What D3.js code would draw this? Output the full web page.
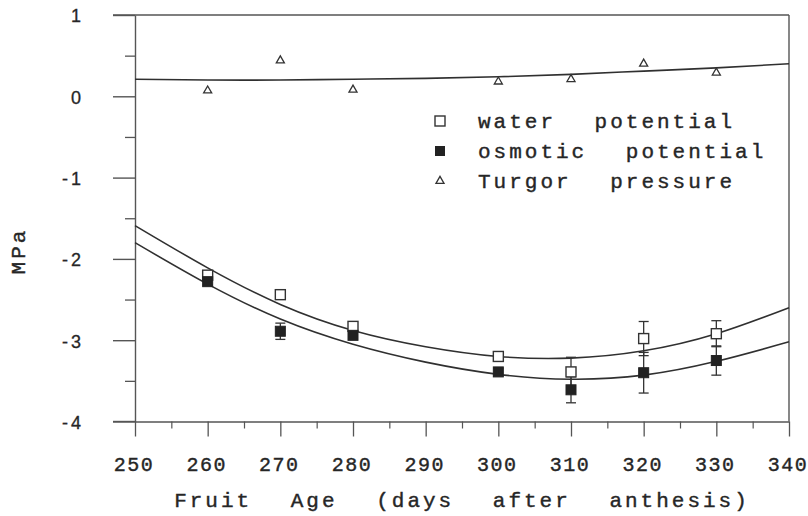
<!DOCTYPE html>
<html>
<head>
<meta charset="utf-8">
<script src="https://cdn.jsdelivr.net/npm/d3@7"></script>
<style>
  html, body { margin: 0; padding: 0; background: #fff; }
  svg { display: block; }
  .mono { font-family: "Liberation Mono", "DejaVu Sans Mono", monospace; }
  .sans { font-family: "Liberation Sans", Arial, sans-serif; }
</style>
</head>
<body>
<svg id="chart" width="808" height="516"></svg>
<script>
// Sampling days and measured values (MPa)
const days = [260, 270, 280, 300, 310, 320, 330];
const waterPotential = [-2.20, -2.44, -2.83, -3.20, -3.39, -2.98, -2.92];
const waterErr = [0.03, 0.03, 0.04, 0.04, 0.18, 0.21, 0.16];
const osmoticPotential = [-2.28, -2.89, -2.94, -3.39, -3.61, -3.40, -3.25];
const osmoticErr = [0.04, 0.10, 0.05, 0.04, 0.16, 0.25, 0.18];
const turgorPressure = [0.07, 0.44, 0.08, 0.18, 0.21, 0.40, 0.29];

// Fitted curves, sampled every 10 days
const fitDays = [250, 260, 270, 280, 290, 300, 310, 320, 330, 340];
const waterFit = [-1.59, -2.11, -2.56, -2.88, -3.08, -3.20, -3.22, -3.13, -2.92, -2.60];
const osmoticFit = [-1.80, -2.31, -2.74, -3.05, -3.27, -3.42, -3.48, -3.43, -3.26, -3.02];
const turgorFit = [0.21, 0.20, 0.20, 0.21, 0.22, 0.24, 0.27, 0.31, 0.35, 0.40];

// Axis ticks
const xTicks = [250, 260, 270, 280, 290, 300, 310, 320, 330, 340];
const xMinorTicks = [255, 265, 275, 285, 295, 305, 315, 325, 335];
const yTicks = [-4, -3, -2, -1, 0, 1];
const yMinorTicks = [-3.5, -2.5, -1.5, -0.5, 0.5];

const legendLabels = ["water potential", "osmotic potential", "Turgor pressure"];

const ink = "#262626";
const axisInk = "#555";
const monoFont = '"Liberation Mono", "DejaVu Sans Mono", monospace';

const svg = d3.select("#chart");
const x = d3.scaleLinear().domain([250, 340]).range([135, 789]);
const y = d3.scaleLinear().domain([-4, 1]).range([421.5, 15]);

// Frame: top edge
svg.append("line").attr("x1", 113).attr("x2", x(340)).attr("y1", y(1)).attr("y2", y(1))
  .attr("stroke", axisInk).attr("stroke-width", 1.4);

// Left axis, major and minor ticks
const yAxis = svg.append("g").attr("transform", `translate(${x(250)},0)`)
  .call(d3.axisLeft(y).tickValues(yTicks).tickSize(22).tickSizeOuter(0)
    .tickFormat(d => d < 0 ? "-" + Math.abs(d) : String(d)));
yAxis.select(".domain").attr("stroke", axisInk).attr("stroke-width", 1.4);
yAxis.selectAll(".tick line").attr("stroke", axisInk).attr("stroke-width", 1.4);
yAxis.selectAll(".tick text").attr("x", -51).attr("dy", "0.38em")
  .attr("font-size", 18).attr("fill", ink).attr("stroke", ink).attr("stroke-width", 0.3)
  .attr("letter-spacing", 3)
  .style("font-family", '"Liberation Sans", Arial, sans-serif');

const yMinor = svg.append("g").attr("transform", `translate(${x(250)},0)`)
  .call(d3.axisLeft(y).tickValues(yMinorTicks).tickSize(10).tickFormat(""));
yMinor.select(".domain").remove();
yMinor.selectAll(".tick line").attr("stroke", axisInk).attr("stroke-width", 1.3);

// Right edge
svg.append("line").attr("x1", x(340)).attr("x2", x(340)).attr("y1", y(1)).attr("y2", y(-4))
  .attr("stroke", axisInk).attr("stroke-width", 1.4);

// Bottom axis
const xAxis = svg.append("g").attr("transform", `translate(0,${y(-4)})`)
  .call(d3.axisBottom(x).tickValues(xTicks).tickSize(15).tickSizeOuter(0).tickFormat(d3.format("d")));
xAxis.select(".domain").attr("stroke", axisInk).attr("stroke-width", 1.4);
xAxis.selectAll(".tick line").attr("stroke", axisInk).attr("stroke-width", 1.3);
xAxis.selectAll(".tick text").attr("x", -1.5).attr("y", 49).attr("dy", 0).attr("font-size", 20)
  .attr("fill", ink).attr("stroke", ink).attr("stroke-width", 0.4).attr("letter-spacing", 1.5)
  .style("font-family", monoFont);

const xMinor = svg.append("g").attr("transform", `translate(0,${y(-4)})`)
  .call(d3.axisBottom(x).tickValues(xMinorTicks).tickSize(7).tickFormat(""));
xMinor.select(".domain").remove();
xMinor.selectAll(".tick line").attr("stroke", axisInk).attr("stroke-width", 1.2);

// bottom edge continues left to meet the -4 tick
svg.append("line").attr("x1", 113).attr("x2", x(250)).attr("y1", y(-4)).attr("y2", y(-4))
  .attr("stroke", axisInk).attr("stroke-width", 1.4);

// Axis titles
svg.append("text").attr("class", "mono")
  .attr("x", (x(250) + x(340)) / 2).attr("y", 507)
  .attr("text-anchor", "middle").attr("font-size", 21).attr("fill", ink)
  .attr("stroke", ink).attr("stroke-width", 0.4)
  .attr("letter-spacing", 3).attr("word-spacing", 23)
  .text("Fruit Age (days after anthesis)");

svg.append("text").attr("class", "mono")
  .attr("transform", "translate(25,251) rotate(-90)")
  .attr("text-anchor", "middle").attr("font-size", 21).attr("fill", ink)
  .attr("stroke", ink).attr("stroke-width", 0.4)
  .attr("letter-spacing", 3)
  .text("MPa");

// Fitted curves
const fitLine = d3.line().x(d => x(d[0])).y(d => y(d[1])).curve(d3.curveNatural);
[waterFit, osmoticFit, turgorFit].forEach(vals => {
  svg.append("path")
    .datum(fitDays.map((d, i) => [d, vals[i]]))
    .attr("d", fitLine)
    .attr("fill", "none").attr("stroke", "#303030").attr("stroke-width", 1.6);
});

// Error bars
function errorBars(vals, errs) {
  const g = svg.append("g").attr("stroke", "#333").attr("stroke-width", 1.3);
  days.forEach((d, i) => {
    const cx = x(d), top = y(vals[i] + errs[i]), bot = y(vals[i] - errs[i]);
    g.append("line").attr("x1", cx).attr("x2", cx).attr("y1", top).attr("y2", bot);
    g.append("line").attr("x1", cx - 5).attr("x2", cx + 5).attr("y1", top).attr("y2", top);
    g.append("line").attr("x1", cx - 5).attr("x2", cx + 5).attr("y1", bot).attr("y2", bot);
  });
}
errorBars(waterPotential, waterErr);
errorBars(osmoticPotential, osmoticErr);

// Markers
const sq = 10;
svg.append("g").selectAll("rect").data(days).join("rect")
  .attr("x", d => x(d) - sq / 2).attr("y", (d, i) => y(waterPotential[i]) - sq / 2)
  .attr("width", sq).attr("height", sq)
  .attr("fill", "#fff").attr("stroke", "#333").attr("stroke-width", 1.4);

svg.append("g").selectAll("rect").data(days).join("rect")
  .attr("x", d => x(d) - sq / 2).attr("y", (d, i) => y(osmoticPotential[i]) - sq / 2)
  .attr("width", sq).attr("height", sq)
  .attr("fill", "#222").attr("stroke", "#222").attr("stroke-width", 1);

const tri = d3.symbol().type(d3.symbolTriangle).size(28);
svg.append("g").selectAll("path").data(days).join("path")
  .attr("transform", (d, i) => `translate(${x(d)},${y(turgorPressure[i])})`)
  .attr("d", tri).attr("fill", "#fff").attr("stroke", "#333").attr("stroke-width", 1.3);

// Legend
const legend = svg.append("g").attr("transform", "translate(440,121)");
const rowGap = 30;
legendLabels.forEach((label, i) => {
  const row = legend.append("g").attr("transform", `translate(0,${i * rowGap})`);
  if (i === 0) {
    row.append("rect").attr("x", -5).attr("y", -5).attr("width", 10).attr("height", 10)
      .attr("fill", "#fff").attr("stroke", "#333").attr("stroke-width", 1.4);
  } else if (i === 1) {
    row.append("rect").attr("x", -5).attr("y", -5).attr("width", 10).attr("height", 10)
      .attr("fill", "#222");
  } else {
    row.append("path").attr("d", tri).attr("fill", "#fff").attr("stroke", "#333").attr("stroke-width", 1.3);
  }
  row.append("text").attr("class", "mono").attr("x", 38).attr("y", 7)
    .attr("font-size", 21).attr("fill", ink).attr("stroke", ink).attr("stroke-width", 0.4)
    .attr("letter-spacing", 3).attr("word-spacing", 23)
    .text(label);
});
</script>
</body>
</html>
